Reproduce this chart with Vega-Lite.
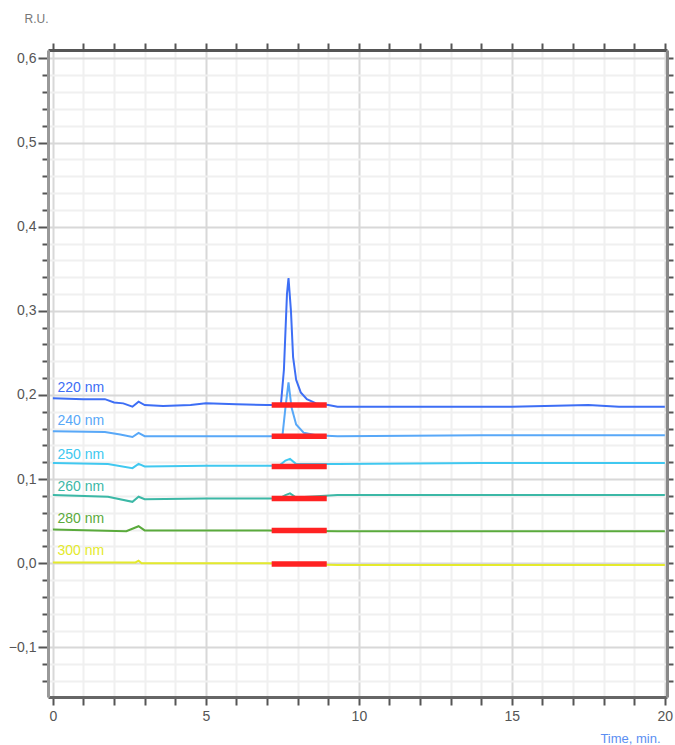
{
  "$schema": "https://vega.github.io/schema/vega-lite/v6.json",
  "width": 619,
  "height": 647,
  "autosize": "none",
  "padding": {"left": 48, "top": 50, "right": 8, "bottom": 48},
  "background": "white",
  "config": {"view": {"stroke": null}, "font": "Liberation Sans"},
  "datasets": {
    "traces": [
      {"wl": "220 nm", "t": 0, "v": 0.196}, {"wl": "220 nm", "t": 1.0, "v": 0.195}, {"wl": "220 nm", "t": 1.7, "v": 0.195}, {"wl": "220 nm", "t": 2.0, "v": 0.191}, {"wl": "220 nm", "t": 2.3, "v": 0.190}, {"wl": "220 nm", "t": 2.6, "v": 0.186}, {"wl": "220 nm", "t": 2.8, "v": 0.192}, {"wl": "220 nm", "t": 3.0, "v": 0.188}, {"wl": "220 nm", "t": 3.6, "v": 0.187}, {"wl": "220 nm", "t": 4.5, "v": 0.188}, {"wl": "220 nm", "t": 5.0, "v": 0.190}, {"wl": "220 nm", "t": 6.0, "v": 0.189}, {"wl": "220 nm", "t": 7.0, "v": 0.188}, {"wl": "220 nm", "t": 7.45, "v": 0.188}, {"wl": "220 nm", "t": 7.55, "v": 0.23}, {"wl": "220 nm", "t": 7.65, "v": 0.320}, {"wl": "220 nm", "t": 7.7, "v": 0.339}, {"wl": "220 nm", "t": 7.78, "v": 0.300}, {"wl": "220 nm", "t": 7.85, "v": 0.245}, {"wl": "220 nm", "t": 7.95, "v": 0.218}, {"wl": "220 nm", "t": 8.1, "v": 0.203}, {"wl": "220 nm", "t": 8.3, "v": 0.195}, {"wl": "220 nm", "t": 8.6, "v": 0.190}, {"wl": "220 nm", "t": 9.0, "v": 0.188}, {"wl": "220 nm", "t": 9.3, "v": 0.186}, {"wl": "220 nm", "t": 12, "v": 0.186}, {"wl": "220 nm", "t": 15, "v": 0.186}, {"wl": "220 nm", "t": 17.5, "v": 0.188}, {"wl": "220 nm", "t": 18.5, "v": 0.186}, {"wl": "220 nm", "t": 20, "v": 0.186},
      {"wl": "240 nm", "t": 0, "v": 0.157}, {"wl": "240 nm", "t": 1.7, "v": 0.156}, {"wl": "240 nm", "t": 2.2, "v": 0.153}, {"wl": "240 nm", "t": 2.6, "v": 0.150}, {"wl": "240 nm", "t": 2.8, "v": 0.155}, {"wl": "240 nm", "t": 3.0, "v": 0.151}, {"wl": "240 nm", "t": 5.0, "v": 0.151}, {"wl": "240 nm", "t": 7.0, "v": 0.151}, {"wl": "240 nm", "t": 7.5, "v": 0.151}, {"wl": "240 nm", "t": 7.6, "v": 0.185}, {"wl": "240 nm", "t": 7.7, "v": 0.215}, {"wl": "240 nm", "t": 7.8, "v": 0.185}, {"wl": "240 nm", "t": 7.95, "v": 0.165}, {"wl": "240 nm", "t": 8.2, "v": 0.155}, {"wl": "240 nm", "t": 8.6, "v": 0.152}, {"wl": "240 nm", "t": 9.3, "v": 0.151}, {"wl": "240 nm", "t": 14, "v": 0.152}, {"wl": "240 nm", "t": 20, "v": 0.152},
      {"wl": "250 nm", "t": 0, "v": 0.119}, {"wl": "250 nm", "t": 1.8, "v": 0.118}, {"wl": "250 nm", "t": 2.6, "v": 0.113}, {"wl": "250 nm", "t": 2.8, "v": 0.118}, {"wl": "250 nm", "t": 3.0, "v": 0.115}, {"wl": "250 nm", "t": 5.0, "v": 0.116}, {"wl": "250 nm", "t": 7.4, "v": 0.116}, {"wl": "250 nm", "t": 7.6, "v": 0.122}, {"wl": "250 nm", "t": 7.75, "v": 0.124}, {"wl": "250 nm", "t": 7.95, "v": 0.118}, {"wl": "250 nm", "t": 9.3, "v": 0.118}, {"wl": "250 nm", "t": 14, "v": 0.119}, {"wl": "250 nm", "t": 20, "v": 0.119},
      {"wl": "260 nm", "t": 0, "v": 0.081}, {"wl": "260 nm", "t": 1.8, "v": 0.079}, {"wl": "260 nm", "t": 2.6, "v": 0.073}, {"wl": "260 nm", "t": 2.8, "v": 0.079}, {"wl": "260 nm", "t": 3.0, "v": 0.076}, {"wl": "260 nm", "t": 5.0, "v": 0.077}, {"wl": "260 nm", "t": 7.4, "v": 0.077}, {"wl": "260 nm", "t": 7.6, "v": 0.081}, {"wl": "260 nm", "t": 7.75, "v": 0.083}, {"wl": "260 nm", "t": 7.95, "v": 0.078}, {"wl": "260 nm", "t": 9.3, "v": 0.081}, {"wl": "260 nm", "t": 14, "v": 0.081}, {"wl": "260 nm", "t": 20, "v": 0.081},
      {"wl": "280 nm", "t": 0, "v": 0.040}, {"wl": "280 nm", "t": 2.4, "v": 0.038}, {"wl": "280 nm", "t": 2.8, "v": 0.044}, {"wl": "280 nm", "t": 3.0, "v": 0.039}, {"wl": "280 nm", "t": 7.0, "v": 0.039}, {"wl": "280 nm", "t": 9.3, "v": 0.038}, {"wl": "280 nm", "t": 20, "v": 0.038},
      {"wl": "300 nm", "t": 0, "v": 0.001}, {"wl": "300 nm", "t": 2.7, "v": 0.001}, {"wl": "300 nm", "t": 2.8, "v": 0.003}, {"wl": "300 nm", "t": 2.9, "v": 0.000}, {"wl": "300 nm", "t": 7.0, "v": 0.000}, {"wl": "300 nm", "t": 9.3, "v": -0.002}, {"wl": "300 nm", "t": 20, "v": -0.002}
    ],
    "segs": [
      {"wl": "220 nm", "t": 7.15, "v": 0.188}, {"wl": "220 nm", "t": 8.95, "v": 0.188},
      {"wl": "240 nm", "t": 7.15, "v": 0.151}, {"wl": "240 nm", "t": 8.95, "v": 0.151},
      {"wl": "250 nm", "t": 7.15, "v": 0.115}, {"wl": "250 nm", "t": 8.95, "v": 0.115},
      {"wl": "260 nm", "t": 7.15, "v": 0.077}, {"wl": "260 nm", "t": 8.95, "v": 0.077},
      {"wl": "280 nm", "t": 7.15, "v": 0.039}, {"wl": "280 nm", "t": 8.95, "v": 0.039},
      {"wl": "300 nm", "t": 7.15, "v": -0.001}, {"wl": "300 nm", "t": 8.95, "v": -0.001}
    ],
    "labels": [
      {"wl": "220 nm", "t": 0.15, "v": 0.208},
      {"wl": "240 nm", "t": 0.15, "v": 0.169},
      {"wl": "250 nm", "t": 0.15, "v": 0.129},
      {"wl": "260 nm", "t": 0.15, "v": 0.091},
      {"wl": "280 nm", "t": 0.15, "v": 0.053},
      {"wl": "300 nm", "t": 0.15, "v": 0.015}
    ]
  },
  "resolve": {"axis": {"x": "independent", "y": "independent"}},
  "layer": [
    {
      "data": {"name": "traces"},
      "mark": {"type": "line", "strokeWidth": 2, "interpolate": "linear"},
      "encoding": {
        "x": {"field": "t", "type": "quantitative", "scale": {"domain": [-0.16, 20.07], "nice": false, "zero": false},
          "axis": {"orient": "bottom", "values": [0,1,2,3,4,5,6,7,8,9,10,11,12,13,14,15,16,17,18,19,20],
            "labelExpr": "datum.value % 5 == 0 ? datum.value : ''", "labelFontSize": 14, "labelColor": "#555", "labelPadding": 4,
            "tickColor": "#555", "tickWidth": 2, "tickSize": 8,
            "domainColor": "#666", "domainWidth": 3,
            "grid": true, "gridColor": {"condition": {"test": "datum.value % 5 == 0", "value": "#d8d8d8"}, "value": "#f0f0f0"}, "gridWidth": 2,
            "title": "Time, min.", "titleColor": "#5b8ef2", "titleFontSize": 13, "titleFontWeight": "normal", "titleAlign": "center", "titleBaseline": "middle", "titleX": 582, "titleY": 41}},
        "y": {"field": "v", "type": "quantitative", "scale": {"domain": [-0.159, 0.61], "nice": false, "zero": false},
          "axis": {"orient": "left", "values": [-0.14,-0.12,-0.1,-0.08,-0.06,-0.04,-0.02,0,0.02,0.04,0.06,0.08,0.1,0.12,0.14,0.16,0.18,0.2,0.22,0.24,0.26,0.28,0.3,0.32,0.34,0.36,0.38,0.4,0.42,0.44,0.46,0.48,0.5,0.52,0.54,0.56,0.58,0.6],
            "labelExpr": "abs(datum.value*10 - round(datum.value*10)) < 0.001 ? replace(format(datum.value, '.1f'), '.', ',') : ''",
            "labelFontSize": 14, "labelColor": "#555", "labelPadding": 2,
            "tickColor": "#555", "tickWidth": 2, "tickSize": {"condition": {"test": "abs(datum.value*10 - round(datum.value*10)) < 0.001", "value": 10}, "value": 6},
            "domainColor": "#999", "domainWidth": 3,
            "grid": true, "gridColor": {"condition": {"test": "abs(datum.value*10 - round(datum.value*10)) < 0.001", "value": "#d8d8d8"}, "value": "#f0f0f0"}, "gridWidth": 2,
            "title": "R.U.", "titleColor": "#777", "titleFontSize": 12, "titleFontWeight": "normal", "titleAngle": 0, "titleAlign": "center", "titleBaseline": "middle", "titleX": -12, "titleY": -32}},
        "color": {"field": "wl", "type": "nominal", "legend": null,
          "scale": {"domain": ["220 nm", "240 nm", "250 nm", "260 nm", "280 nm", "300 nm"], "range": ["#3d6ef5", "#58a8f8", "#40c8f0", "#3cb8a6", "#5aaa3c", "#e4ea2c"]}},
        "detail": {"field": "wl"}
      }
    },
    {
      "data": {"name": "segs"},
      "mark": {"type": "line", "strokeWidth": 5.5, "color": "#ff2222"},
      "encoding": {
        "x": {"field": "t", "type": "quantitative", "axis": null},
        "y": {"field": "v", "type": "quantitative", "axis": null},
        "detail": {"field": "wl"}
      }
    },
    {
      "data": {"name": "labels"},
      "mark": {"type": "text", "align": "left", "baseline": "middle", "fontSize": 14},
      "encoding": {
        "x": {"field": "t", "type": "quantitative",
          "axis": {"orient": "top", "values": [0,1,2,3,4,5,6,7,8,9,10,11,12,13,14,15,16,17,18,19,20], "labels": false, "grid": false,
            "tickColor": "#555", "tickWidth": 2, "tickSize": 7, "domainColor": "#555", "domainWidth": 3, "title": null}},
        "y": {"field": "v", "type": "quantitative",
          "axis": {"orient": "right", "values": [-0.14,-0.12,-0.1,-0.08,-0.06,-0.04,-0.02,0,0.02,0.04,0.06,0.08,0.1,0.12,0.14,0.16,0.18,0.2,0.22,0.24,0.26,0.28,0.3,0.32,0.34,0.36,0.38,0.4,0.42,0.44,0.46,0.48,0.5,0.52,0.54,0.56,0.58,0.6], "labels": false, "grid": false,
            "tickColor": "#555", "tickWidth": 2, "tickSize": 6, "domainColor": "#888", "domainWidth": 3, "title": null}},
        "text": {"field": "wl"},
        "color": {"field": "wl", "type": "nominal", "legend": null}
      }
    }
  ]
}
